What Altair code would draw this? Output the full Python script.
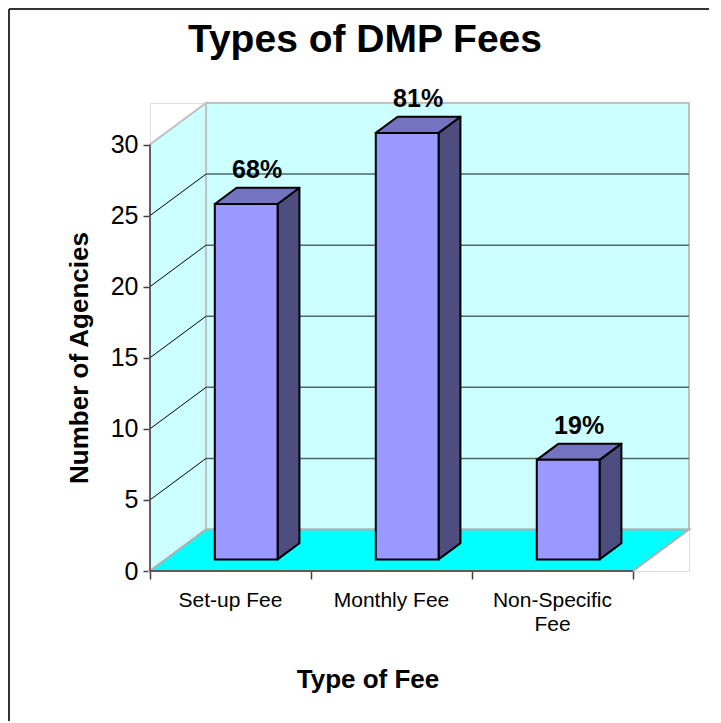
import altair as alt
import pandas as pd

# ---- data ----
categories = ["Set-up Fee", "Monthly Fee", "Non-Specific\nFee"]
agencies = [25, 30, 7]
pct_labels = ["68%", "81%", "19%"]
y_ticks = [0, 5, 10, 15, 20, 25, 30]
title_text = "Types of DMP Fees"
y_title = "Number of Agencies"
x_title = "Type of Fee"

# ---- 3-D projection parameters (styling) ----
N = len(categories)
YMAX = max(y_ticks)
DX = 0.348   # wall depth in category units
DY = 2.92    # wall depth in value units
BW = 0.39    # bar width
F0 = 0.28    # depth fraction of bar front face
BD = 0.39    # bar depth fraction
W, H = 539, 468
FONT = "Liberation Sans"

xs = alt.Scale(domain=[0, N + DX], nice=False, zero=False)
ys = alt.Scale(domain=[0, YMAX + DY], nice=False, zero=False)

x_axis = alt.Axis(values=list(range(N + 1)), labels=False, domain=False, grid=False,
                  ticks=True, tickSize=8, tickColor="#404040", tickWidth=1.5,
                  title=x_title, titleX=217.5, titleY=116, titleFontSize=26,
                  titleFont=FONT, titleFontWeight="bold", titleBaseline="alphabetic",
                  titleAlign="center", titleColor="black")
y_axis = alt.Axis(values=y_ticks, domain=False, grid=False, tickSize=7,
                  tickColor="#404040", tickWidth=1.5, labelFontSize=25, labelFont=FONT,
                  labelColor="black", labelPadding=5, labelOverlap=False,
                  title=y_title, titleX=-63, titleY=254.5, titleAngle=270,
                  titleAlign="center", titleBaseline="alphabetic", titleFontSize=26,
                  titleFont=FONT, titleFontWeight="bold", titleColor="black")


def X(f="x"):
    return alt.X(f"{f}:Q", scale=xs, axis=x_axis)


def Y(f="y"):
    return alt.Y(f"{f}:Q", scale=ys, axis=y_axis, stack=None)


# ---- walls ----
back_df = pd.DataFrame({"x": [DX], "x2": [N + DX], "y": [DY], "y2": [YMAX + DY]})
left_df = pd.DataFrame({"x": [0, DX], "y": [YMAX, YMAX + DY], "y2": [0, DY]})
floor_df = pd.DataFrame({"x": [0, DX, N, N + DX], "y": [0, DY, DY, DY], "y2": [0, 0, 0, DY]})
grid_vals = [v for v in y_ticks if 0 < v < YMAX]
grid_df = pd.DataFrame({"x": DX, "x2": N + DX, "y": [v + DY for v in grid_vals]})
diag_df = pd.DataFrame({"x": 0, "x2": DX, "y": grid_vals, "y2": [v + DY for v in grid_vals]})
yaxis_df = pd.DataFrame({"x": [0], "y": [0], "y2": [YMAX]})
xaxis_df = pd.DataFrame({"x": [0], "x2": [N], "y": [0]})

back = alt.Chart(back_df).mark_rect(fill="#CCFFFF", stroke="#C0C0C0", strokeWidth=2).encode(
    x=X(), x2="x2", y=Y(), y2="y2")
left = alt.Chart(left_df).mark_area(fill="#CCFFFF", stroke="#C0C0C0", strokeWidth=2).encode(
    x=X(), y=Y(), y2="y2")
floor = alt.Chart(floor_df).mark_area(fill="#00FFFF", stroke="#B0B0B0", strokeWidth=2).encode(
    x=X(), y=Y(), y2="y2")
grid = alt.Chart(grid_df).mark_rule(color="#506868", strokeWidth=1.5).encode(
    x=X(), x2="x2", y=Y())
diag = alt.Chart(diag_df).mark_rule(color="black", strokeWidth=1).encode(
    x=X(), x2="x2", y=Y(), y2="y2")
yline = alt.Chart(yaxis_df).mark_rule(color="#404040", strokeWidth=1.5).encode(
    x=X(), y=Y(), y2="y2")
xline = alt.Chart(xaxis_df).mark_rule(color="#404040", strokeWidth=1.5).encode(
    x=X(), x2="x2", y=Y())

# ---- bars ----
ddx, ddy = BD * DX, BD * DY
front_rows, side_rows, top_rows, lab_rows, cat_rows = [], [], [], [], []
for i, (c, v, p) in enumerate(zip(categories, agencies, pct_labels)):
    xl = i + 0.5 - BW / 2 + F0 * DX
    xr = xl + BW
    yb = F0 * DY
    yt = v + F0 * DY
    front_rows.append({"cat": c, "x": xl, "x2": xr, "y": yb, "y2": yt})
    side_rows += [{"cat": c, "x": xr, "y": yt, "y2": yb},
                  {"cat": c, "x": xr + ddx, "y": yt + ddy, "y2": yb + ddy}]
    top_rows += [{"cat": c, "x": xl, "y": yt, "y2": yt},
                 {"cat": c, "x": xl + ddx, "y": yt + ddy, "y2": yt},
                 {"cat": c, "x": xr, "y": yt + ddy, "y2": yt},
                 {"cat": c, "x": xr + ddx, "y": yt + ddy, "y2": yt + ddy}]
    lab_rows.append({"label": p, "x": i + 0.5 + (F0 + BD / 2) * DX, "y": yt + ddy})
    cat_rows.append({"cat": c, "x": i + 0.5, "y": 0})

side = alt.Chart(pd.DataFrame(side_rows)).mark_area(
    fill="#4D4D80", stroke="black", strokeWidth=2, strokeJoin="round").encode(
    x=X(), y=Y(), y2="y2", detail="cat:N")
top = alt.Chart(pd.DataFrame(top_rows)).mark_area(
    fill="#7373BF", stroke="black", strokeWidth=2, strokeJoin="round").encode(
    x=X(), y=Y(), y2="y2", detail="cat:N")
front = alt.Chart(pd.DataFrame(front_rows)).mark_rect(
    fill="#9999FF", stroke="black", strokeWidth=2).encode(
    x=X(), x2="x2", y=Y(), y2="y2")

pct = alt.Chart(pd.DataFrame(lab_rows)).mark_text(
    font=FONT, fontSize=25, fontWeight="bold", color="black", dy=-10,
    baseline="alphabetic", align="center").encode(x=X(), y=Y(), text="label:N")

cat_text = alt.Chart(pd.DataFrame(cat_rows)).mark_text(
    font=FONT, fontSize=21, color="black", dy=36, baseline="alphabetic",
    align="center", lineBreak="\n", lineHeight=23.5).encode(x=X(), y=Y(), text="cat:N")

one = pd.DataFrame({"t": [title_text]})
title = alt.Chart(one).mark_text(
    font=FONT, fontSize=39, fontWeight="bold", color="black",
    baseline="alphabetic", align="center").encode(
    x=alt.value(215), y=alt.value(-51), text="t:N")

border_top = alt.Chart(one).mark_rule(color="#333333", strokeWidth=2).encode(
    x=alt.value(-141), x2=alt.value(W + 20), y=alt.value(-94))
border_left = alt.Chart(one).mark_rule(color="#333333", strokeWidth=2).encode(
    x=alt.value(-141), y=alt.value(-94), y2=alt.value(H + 150))

chart = alt.layer(
    back, left, floor, grid, diag, yline, xline,
    side, top, front, pct, cat_text, title, border_top, border_left
).properties(
    width=W, height=H,
    autosize=alt.AutoSizeParams(type="none"),
    padding={"left": 142, "top": 95, "right": 20, "bottom": 150},
).configure_view(stroke=None).configure(background="white")

chart.save("out.html", embed_options={"renderer": "svg", "actions": False})
